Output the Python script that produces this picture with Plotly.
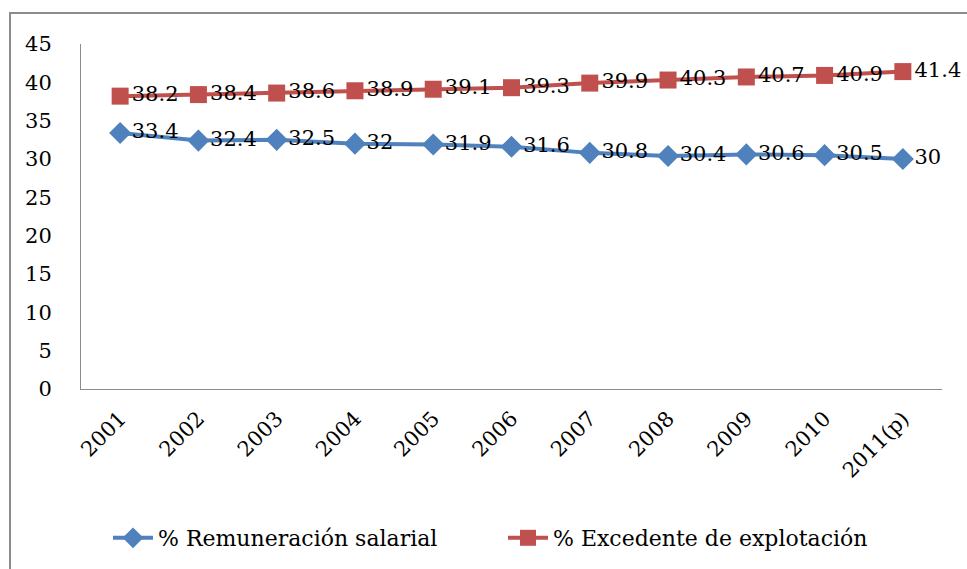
import plotly.graph_objects as go

years = ["2001", "2002", "2003", "2004", "2005", "2006", "2007", "2008", "2009", "2010", "2011(p)"]
remuneracion = [33.4, 32.4, 32.5, 32, 31.9, 31.6, 30.8, 30.4, 30.6, 30.5, 30]
excedente = [38.2, 38.4, 38.6, 38.9, 39.1, 39.3, 39.9, 40.3, 40.7, 40.9, 41.4]

FONT = "DejaVu Serif"
BLUE = "#4F81BD"
RED = "#C0504D"

fig = go.Figure()
fig.add_trace(go.Scatter(
    x=years, y=remuneracion, name="% Remuneración salarial",
    mode="lines+markers+text",
    line=dict(color=BLUE, width=4),
    marker=dict(symbol="diamond", size=17, color=BLUE),
    text=[str(v) for v in remuneracion], textposition="middle right",
    textfont=dict(family=FONT, size=21, color="black"),
    cliponaxis=False,
))
fig.add_trace(go.Scatter(
    x=years, y=excedente, name="% Excedente de explotación",
    mode="lines+markers+text",
    line=dict(color=RED, width=4),
    marker=dict(symbol="square", size=17, color=RED),
    text=[str(v) for v in excedente], textposition="middle right",
    textfont=dict(family=FONT, size=21, color="black"),
    cliponaxis=False,
))

fig.update_layout(
    width=967, height=569,
    margin=dict(l=81, r=25, t=44, b=180, autoexpand=False),
    paper_bgcolor="white", plot_bgcolor="white",
    font=dict(family=FONT, size=21, color="black"),
    showlegend=True,
    legend=dict(orientation="h", x=(108 - 81) / 861, xanchor="left",
                yref="container", y=1 - 538 / 569, yanchor="middle",
                font=dict(family=FONT, size=22, color="black"), itemwidth=40,
                entrywidth=340, entrywidthmode="pixels",
                tracegroupgap=0),
    xaxis=dict(type="category", range=[-0.5, len(years) - 0.5], tickangle=-45,
               showline=True, linecolor="#8c8c8c",
               linewidth=1, showgrid=False, ticks="", ticklabelstandoff=8,
               automargin=False, tickfont=dict(family=FONT, size=21)),
    yaxis=dict(range=[0, 45], dtick=5, showline=True, linecolor="#8c8c8c",
               linewidth=1, showgrid=False, ticks="", ticklabelstandoff=24,
               automargin=False, zeroline=False, tickfont=dict(family=FONT, size=21)),
    shapes=[dict(type="rect", xref="paper", yref="paper",
                 x0=(10 - 81) / 861, x1=1.2, y0=-0.7, y1=(389 - 13) / 345,
                 line=dict(color="#8c8c8c", width=2), fillcolor="rgba(0,0,0,0)",
                 layer="below")],
)

fig.write_html("out.html", post_script="document.body.style.margin='0';",
               config={"displayModeBar": False})
